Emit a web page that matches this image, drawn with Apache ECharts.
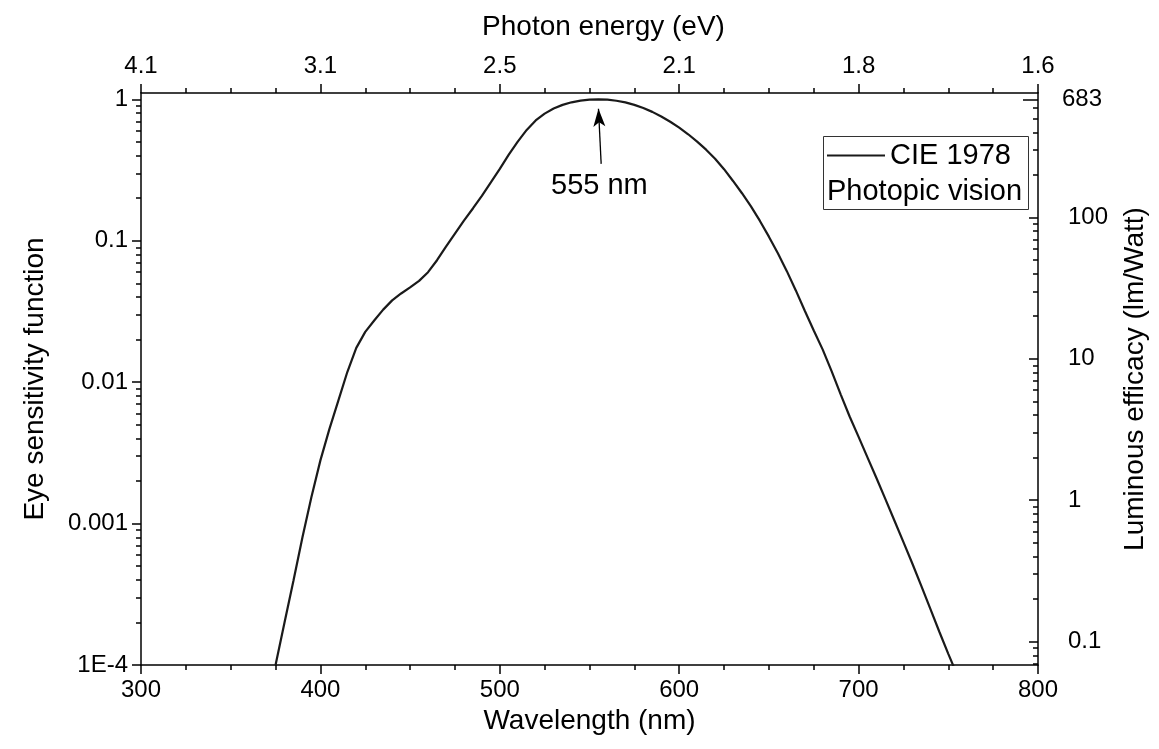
<!DOCTYPE html>
<html>
<head>
<meta charset="utf-8">
<title>Eye sensitivity function</title>
<script src="https://cdn.jsdelivr.net/npm/echarts@6/dist/echarts.min.js"></script>
<style>
  html, body { margin: 0; padding: 0; background: #fff; }
  #chart { width: 1159px; height: 749px; }
</style>
</head>
<body>
<div id="chart"></div>
<script>
// CIE 1978 photopic luminosity function V(λ), 5 nm steps
const wavelengths = [
  375, 380, 385, 390, 395, 400, 405, 410, 415, 420, 425, 430, 435, 440, 445,
  450, 455, 460, 465, 470, 475, 480, 485, 490, 495, 500, 505, 510, 515, 520,
  525, 530, 535, 540, 545, 550, 555, 560, 565, 570, 575, 580, 585, 590, 595,
  600, 605, 610, 615, 620, 625, 630, 635, 640, 645, 650, 655, 660, 665, 670,
  675, 680, 685, 690, 695, 700, 705, 710, 715, 720, 725, 730, 735, 740, 745,
  750, 755
];
const sensitivity = [
  1.0e-4, 2.0e-4, 3.955e-4, 8.0e-4, 1.545e-3, 2.8e-3, 4.656e-3, 7.4e-3, 1.18e-2, 1.75e-2,
  2.27e-2, 2.73e-2, 3.26e-2, 3.79e-2, 4.24e-2, 4.68e-2, 5.21e-2, 6.0e-2, 7.29e-2, 9.098e-2,
  0.1126, 0.139, 0.1693, 0.208, 0.2586, 0.323, 0.4073, 0.503, 0.6082, 0.710,
  0.7932, 0.862, 0.9148, 0.954, 0.9803, 0.995, 1.0, 0.995, 0.9786, 0.952,
  0.9154, 0.870, 0.8163, 0.757, 0.6949, 0.631, 0.5668, 0.503, 0.4412, 0.381,
  0.321, 0.265, 0.217, 0.175, 0.1382, 0.107, 8.16e-2, 6.1e-2, 4.458e-2, 3.2e-2,
  2.32e-2, 1.70e-2, 1.192e-2, 8.21e-3, 5.723e-3, 4.102e-3, 2.929e-3, 2.091e-3, 1.484e-3, 1.047e-3,
  7.4e-4, 5.2e-4, 3.611e-4, 2.492e-4, 1.719e-4, 1.2e-4, 8.48e-5
];

// Axis tick labels
const wavelengthTicks = [300, 400, 500, 600, 700, 800];
const photonEnergyLabels = ['4.1', '3.1', '2.5', '2.1', '1.8', '1.6'];
const sensitivityTicks = [1e-4, 1e-3, 1e-2, 1e-1, 1];
const sensitivityLabels = ['1E-4', '0.001', '0.01', '0.1', '1'];
const efficacyTicks = [0.1, 1, 10, 100];
const efficacyLabels = ['0.1', '1', '10', '100'];
const maxEfficacy = 683;          // lm/W at the peak of V(λ)

// Axis ranges
const yMin = 1e-4;
const yMax = 1.11;

const FONT = "'Liberation Sans', Arial, Helvetica, sans-serif";
const TICK_FS = 24;
const TITLE_FS = 28;
const lg = Math.log10;
const effShift = lg(maxEfficacy);

// Peak of the curve, used for the annotation arrow
let peakIdx = 0;
sensitivity.forEach((v, i) => { if (v > sensitivity[peakIdx]) peakIdx = i; });
const peakNm = wavelengths[peakIdx];

// minor tick positions (2..9 x decade) in log space
function minorLogs(lo, hi) {
  const out = [];
  for (let e = Math.floor(lg(lo)) - 1; e <= Math.ceil(lg(hi)); e++) {
    for (let k = 2; k <= 9; k++) {
      const v = k * Math.pow(10, e);
      if (v > lo && v < hi) out.push(lg(v));
    }
  }
  return out;
}

const lineColor = '#000';
const axisLineStyle = { color: lineColor, width: 1.5 };
const tickLine = { color: lineColor, width: 1.5 };

function decorAxis(opts) {
  return Object.assign({
    type: 'value',
    splitLine: { show: false },
    axisLine: { show: false, onZero: false, lineStyle: axisLineStyle },
    axisTick: { show: false },
    axisLabel: { show: false },
    z: 5
  }, opts);
}

const leftMin = lg(yMin), leftMax = lg(yMax);
const rightMin = leftMin + effShift, rightMax = leftMax + effShift;

const chart = echarts.init(document.getElementById('chart'), null, { renderer: 'canvas' });

chart.setOption({
  animation: false,
  backgroundColor: '#fff',
  textStyle: { fontFamily: FONT },
  grid: { left: 141, right: 121, top: 93, bottom: 84, containLabel: false },
  xAxis: [
    {
      type: 'value', position: 'bottom', min: 300, max: 800, interval: 100,
      name: 'Wavelength (nm)', nameLocation: 'middle', nameGap: 39,
      nameTextStyle: { fontSize: TITLE_FS, color: '#000', fontFamily: FONT },
      axisLine: { show: true, onZero: false, lineStyle: axisLineStyle },
      axisTick: { show: true, inside: false, length: 9, lineStyle: tickLine },
      minorTick: { show: true, splitNumber: 4, length: 5, lineStyle: tickLine },
      axisLabel: { fontSize: TICK_FS, color: '#000', margin: 13, fontFamily: FONT },
      splitLine: { show: false }
    },
    {
      type: 'value', position: 'top', min: 300, max: 800, interval: 100,
      name: 'Photon energy (eV)', nameLocation: 'middle', nameGap: 52,
      nameTextStyle: { fontSize: TITLE_FS, color: '#000', fontFamily: FONT, padding: [0, 0, 0, 28] },
      axisLine: { show: true, onZero: false, lineStyle: axisLineStyle },
      axisTick: { show: true, inside: false, length: 9, lineStyle: tickLine },
      minorTick: { show: true, splitNumber: 4, length: 5, lineStyle: tickLine },
      axisLabel: {
        fontSize: TICK_FS, color: '#000', margin: 15, fontFamily: FONT,
        formatter: v => photonEnergyLabels[wavelengthTicks.indexOf(v)]
      },
      splitLine: { show: false }
    }
  ],
  yAxis: [
    // data axis (logarithmic)
    {
      type: 'log', logBase: 10, min: yMin, max: yMax, position: 'left',
      axisLine: { show: false, onZero: false }, axisTick: { show: false }, axisLabel: { show: false },
      splitLine: { show: false }, minorTick: { show: false }
    },
    // left: frame line, major ticks, labels and title
    decorAxis({
      position: 'left', min: leftMin, max: leftMax,
      name: 'Eye sensitivity function', nameLocation: 'middle', nameGap: 92,
      nameTextStyle: { fontSize: TITLE_FS, color: '#000', fontFamily: FONT },
      axisLine: { show: true, onZero: false, lineStyle: axisLineStyle },
      axisTick: {
        show: true, inside: false, length: 9, lineStyle: tickLine,
        customValues: sensitivityTicks.map(lg)
      },
      axisLabel: {
        show: true, fontSize: TICK_FS, color: '#000', margin: 13, fontFamily: FONT,
        customValues: sensitivityTicks.map(lg),
        formatter: v => {
          const i = sensitivityTicks.findIndex(t => Math.abs(lg(t) - v) < 1e-6);
          return i >= 0 ? sensitivityLabels[i] : '';
        }
      }
    }),
    // left: minor ticks
    decorAxis({
      position: 'left', min: leftMin, max: leftMax,
      axisTick: {
        show: true, inside: false, length: 5, lineStyle: tickLine,
        customValues: minorLogs(yMin, yMax)
      }
    }),
    // right: frame line, major ticks, labels and title (luminous efficacy = 683 · V)
    decorAxis({
      position: 'right', min: rightMin, max: rightMax,
      name: 'Luminous efficacy (lm/Watt)', nameLocation: 'middle', nameGap: 83,
      nameTextStyle: { fontSize: TITLE_FS, color: '#000', fontFamily: FONT },
      axisLine: { show: true, onZero: false, lineStyle: axisLineStyle },
      axisTick: {
        show: true, inside: true, length: 9, lineStyle: tickLine,
        customValues: efficacyTicks.map(lg)
      },
      axisLabel: {
        show: true, fontSize: TICK_FS, color: '#000', margin: 30, fontFamily: FONT,
        customValues: efficacyTicks.map(lg),
        formatter: v => {
          const i = efficacyTicks.findIndex(t => Math.abs(lg(t) - v) < 1e-6);
          return i >= 0 ? efficacyLabels[i] : '';
        }
      }
    }),
    // right: peak efficacy tick and label
    decorAxis({
      position: 'right', min: rightMin, max: rightMax,
      axisTick: {
        show: true, inside: true, length: 15, lineStyle: tickLine,
        customValues: [effShift]
      },
      axisLabel: {
        show: true, fontSize: TICK_FS, color: '#000', margin: 24, fontFamily: FONT,
        customValues: [effShift],
        formatter: () => String(maxEfficacy)
      }
    }),
    // right: minor ticks
    decorAxis({
      position: 'right', min: rightMin, max: rightMax,
      axisTick: {
        show: true, inside: true, length: 5, lineStyle: tickLine,
        customValues: minorLogs(maxEfficacy * yMin, maxEfficacy).filter(v => v < effShift)
      }
    })
  ],
  legend: {
    show: true, left: 827, top: 141, padding: 0, itemGap: 0,
    itemWidth: 58, itemHeight: 2,
    textStyle: { fontSize: 29, color: '#000', fontFamily: FONT },
    data: [{ name: 'CIE 1978', icon: 'rect' }]
  },
  graphic: [
    {
      type: 'rect', left: 823, top: 136, z: 10,
      shape: { width: 205, height: 73 },
      style: { fill: 'rgba(0,0,0,0)', stroke: '#333', lineWidth: 1 }
    },
    {
      type: 'text', left: 827, top: 177, z: 10,
      style: { text: 'Photopic vision', font: '29px ' + FONT, fill: '#000' }
    }
  ],
  series: [
    {
      name: 'CIE 1978',
      type: 'line',
      xAxisIndex: 0,
      yAxisIndex: 0,
      data: wavelengths.map((w, i) => [w, sensitivity[i]]),
      showSymbol: false,
      symbol: 'none',
      clip: true,
      lineStyle: { color: '#1a1a1a', width: 2.2 },
      itemStyle: { color: '#1a1a1a' },
      markLine: {
        silent: true,
        symbol: ['none', 'arrow'],
        symbolSize: [9, 18],
        label: { show: false },
        lineStyle: { color: '#000', width: 1.3, type: 'solid' },
        data: [[
          { coord: [peakNm + 1.5, 0.35] },
          { coord: [peakNm, 0.86] }
        ]]
      },
      markPoint: {
        silent: true,
        symbol: 'rect',
        symbolSize: 0,
        label: {
          show: true, position: 'inside', fontSize: 29, color: '#000', fontFamily: FONT,
          formatter: peakNm + ' nm'
        },
        data: [{ coord: [peakNm + 0.5, 0.245] }]
      }
    }
  ]
});
</script>
</body>
</html>
